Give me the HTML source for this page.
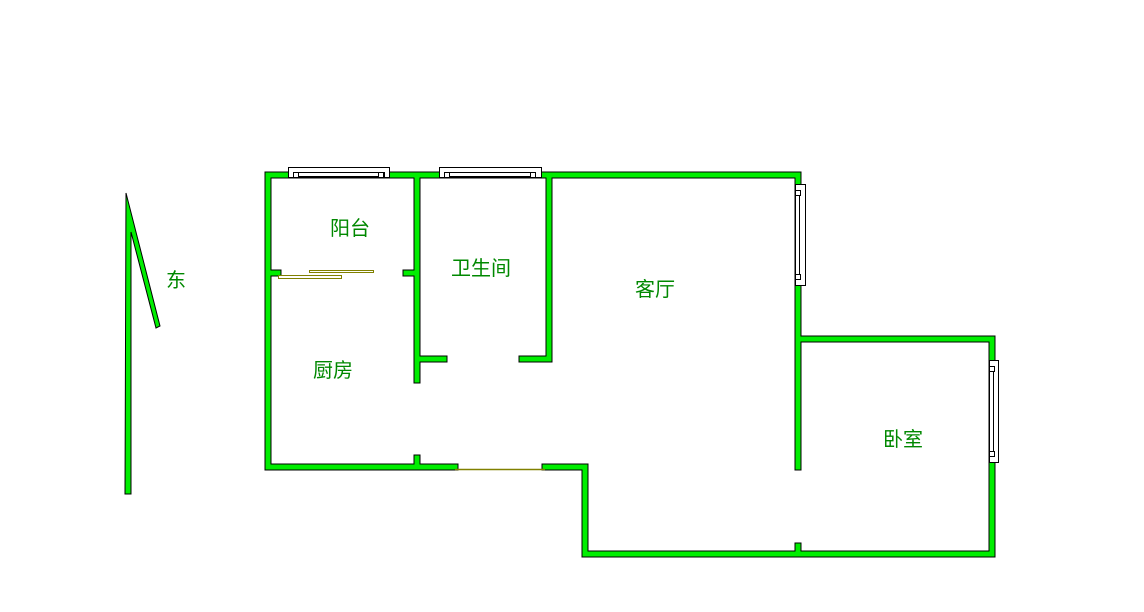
<!DOCTYPE html>
<html><head><meta charset="utf-8"><style>
html,body{margin:0;padding:0;background:#fff;width:1144px;height:612px;overflow:hidden}
text{font-family:"Liberation Sans","Noto Sans CJK SC",sans-serif;font-size:20px;fill:#008800}
</style></head><body>
<svg width="1144" height="612" xmlns="http://www.w3.org/2000/svg">
<g fill="none" stroke-linecap="square">
<g stroke="#000" stroke-width="7">
<path d="M268,175H798M268,175V467H455M545,467H585V554H992V339H798M798,175V467M798,546V554M417,175V380M417,359H444M549,175V359H522M268,273H278M406,273H417M417,458V467"/>
</g>
<g stroke="#00ee00" stroke-width="5">
<path d="M268,175H798M268,175V467H455M545,467H585V554H992V339H798M798,175V467M798,546V554M417,175V380M417,359H444M549,175V359H522M268,273H278M406,273H417M417,458V467"/>
</g>
</g>
<line x1="455" y1="469.5" x2="545" y2="469.5" stroke="#808000" stroke-width="1.5"/>
<rect x="278.5" y="275.5" width="63" height="3" fill="#fff" stroke="#808000"/>
<rect x="309.5" y="270.5" width="64" height="2" fill="#fff" stroke="#808000"/>
<g fill="#fff" stroke="#000" stroke-width="1">
<rect x="288.5" y="167.5" width="101" height="10"/>
<rect x="294.5" y="172.5" width="90" height="4"/>
<rect x="293.5" y="172.5" width="5" height="5"/><rect x="378.5" y="172.5" width="5" height="5"/>
<rect x="439.5" y="167.5" width="102" height="10"/>
<rect x="446.5" y="172.5" width="88" height="4"/>
<rect x="444.5" y="172.5" width="5" height="5"/><rect x="530.5" y="172.5" width="5" height="5"/>
<rect x="795.5" y="184.5" width="10" height="101"/>
<rect x="795.5" y="191.5" width="4" height="88"/>
<rect x="795.5" y="190.5" width="5" height="5"/><rect x="795.5" y="274.5" width="5" height="5"/>
<rect x="989.5" y="360.5" width="9" height="102"/>
<rect x="989.5" y="367.5" width="4" height="88"/>
<rect x="989.5" y="366.5" width="5" height="5"/><rect x="989.5" y="451.5" width="5" height="5"/>
</g>
<polygon points="126,193 160,326 156,328 131,232 131,494 125,494" fill="#00ee00" stroke="#000" stroke-width="1"/>
<text x="166" y="287">东</text>
<text x="330" y="235">阳台</text>
<text x="451" y="275">卫生间</text>
<text x="635" y="296">客厅</text>
<text x="313" y="377">厨房</text>
<text x="883" y="446">卧室</text>
</svg>
</body></html>
